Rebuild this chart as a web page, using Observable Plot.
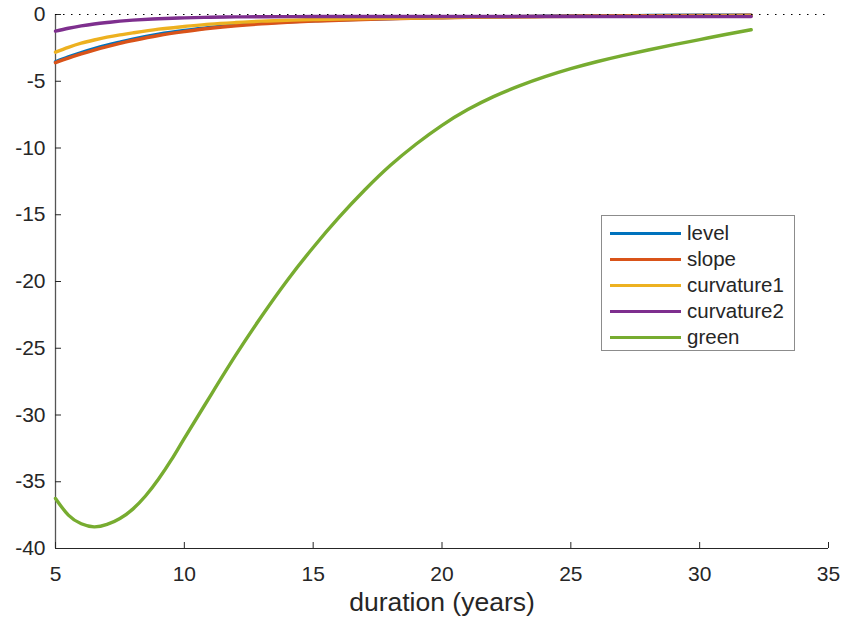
<!DOCTYPE html>
<html>
<head>
<meta charset="utf-8">
<script src="https://cdn.jsdelivr.net/npm/d3@7"></script>
<script src="https://cdn.jsdelivr.net/npm/@observablehq/plot@0.6"></script>
<style>
  html, body { margin: 0; padding: 0; background: #fff; }
  #wrap { position: relative; width: 845px; height: 621px; font-family: "Liberation Sans", Arial, sans-serif; }
  #legend { position: absolute; left: 601px; top: 215px; width: 192px; height: 134px; border: 1px solid #8c8c8c; background: #fff; }
  .row { position: absolute; left: 0; height: 26px; width: 190px; }
  .sw { position: absolute; left: 8px; width: 71px; height: 3px; top: 12px; }
  .lb { position: absolute; left: 85px; top: 0px; font-size: 20.5px; line-height: 26px; color: #262626; white-space: nowrap; }
</style>
</head>
<body>
<div id="wrap"></div>
<script>
const seriesNames = ["level", "slope", "curvature1", "curvature2", "green"];
const seriesColors = ["#0072BD", "#D95319", "#EDB120", "#7E2F8E", "#77AC30"];

const xSmall = [5, 5.5, 6, 6.5, 7, 7.5, 8, 9, 10, 11, 12, 13, 14, 15, 16, 18, 20, 22, 24, 26, 28, 30, 32];
const levelY = [-3.55, -3.18, -2.85, -2.56, -2.3, -2.07, -1.85, -1.48, -1.2, -0.97, -0.79, -0.65, -0.55, -0.47, -0.4, -0.3, -0.22, -0.17, -0.13, -0.1, -0.08, -0.06, -0.05];
const slopeY = [-3.6, -3.26, -2.95, -2.66, -2.4, -2.16, -1.95, -1.57, -1.28, -1.03, -0.84, -0.7, -0.59, -0.5, -0.43, -0.32, -0.24, -0.18, -0.14, -0.11, -0.09, -0.07, -0.06];
const curv1Y = [-2.82, -2.46, -2.15, -1.91, -1.7, -1.53, -1.38, -1.1, -0.9, -0.72, -0.6, -0.5, -0.43, -0.38, -0.34, -0.28, -0.23, -0.19, -0.16, -0.14, -0.12, -0.1, -0.09];
const curv2Y = [-1.25, -1.03, -0.85, -0.71, -0.6, -0.5, -0.42, -0.32, -0.25, -0.21, -0.18, -0.17, -0.16, -0.15, -0.15, -0.15, -0.15, -0.15, -0.15, -0.15, -0.15, -0.15, -0.15];

const xGreen = [5, 5.5, 6, 6.5, 7, 7.5, 8, 8.5, 9, 9.5, 10, 11, 12, 13, 14, 15, 16, 17, 18, 19, 20, 21, 22, 23, 24, 25, 26, 27, 28, 29, 30, 31, 32];
const greenY = [-36.25, -37.5, -38.15, -38.38, -38.2, -37.75, -37.05, -36.05, -34.8, -33.35, -31.75, -28.6, -25.5, -22.6, -19.9, -17.45, -15.2, -13.15, -11.3, -9.7, -8.3, -7.12, -6.15, -5.35, -4.66, -4.06, -3.54, -3.08, -2.66, -2.26, -1.88, -1.5, -1.14];

const xTicks = [5, 10, 15, 20, 25, 30, 35];
const yTicks = [-40, -35, -30, -25, -20, -15, -10, -5, 0];
const xLabel = "duration (years)";

const seriesX = [xSmall, xSmall, xSmall, xSmall, xGreen];
const seriesY = [levelY, slopeY, curv1Y, curv2Y, greenY];

const axisColor = "#262626";
const chart = Plot.plot({
  width: 845,
  height: 621,
  marginLeft: 55,
  marginRight: 17,
  marginTop: 14,
  marginBottom: 73,
  style: {fontFamily: "Liberation Sans, Arial, sans-serif", fontSize: "21px", color: axisColor, background: "#fff"},
  x: {domain: [5, 35]},
  y: {domain: [-40, 0]},
  marks: [
    Plot.ruleY([-40], {stroke: axisColor, strokeWidth: 1}),
    Plot.ruleX([5], {stroke: "#555", strokeWidth: 1.3}),
    Plot.axisX({ticks: xTicks, tickSize: 0, tickPadding: 18, tickFormat: d => String(d), fontSize: 21, label: null}),
    Plot.axisY({ticks: yTicks, tickSize: 0, tickPadding: 10, tickFormat: d => String(d).replace("−", "-"), fontSize: 21, label: null}),
    Plot.tickX(xTicks, {x: d => d, stroke: axisColor, insetTop: 528}),
    Plot.tickY(yTicks, {y: d => d, stroke: axisColor, insetRight: 767}),
    ...seriesNames.map((name, i) => Plot.line(seriesX[i].map((x, j) => ({x, y: seriesY[i][j]})), {x: "x", y: "y", stroke: seriesColors[i], strokeWidth: 3.4, curve: "natural"})),
    Plot.ruleY([0], {stroke: "#000", strokeWidth: 1.2, strokeDasharray: "1.5,6.5"}),
    Plot.text([xLabel], {frameAnchor: "bottom", dy: 62, fontSize: 26.5, fill: axisColor})
  ]
});
const wrap = document.getElementById("wrap");
wrap.appendChild(chart);

const legend = document.createElement("div");
legend.id = "legend";
seriesNames.forEach((name, i) => {
  const row = document.createElement("div");
  row.className = "row";
  row.style.top = (4 + i * 26) + "px";
  row.innerHTML = `<div class="sw" style="background:${seriesColors[i]}"></div><div class="lb">${name}</div>`;
  legend.appendChild(row);
});
wrap.appendChild(legend);
</script>
</body>
</html>
